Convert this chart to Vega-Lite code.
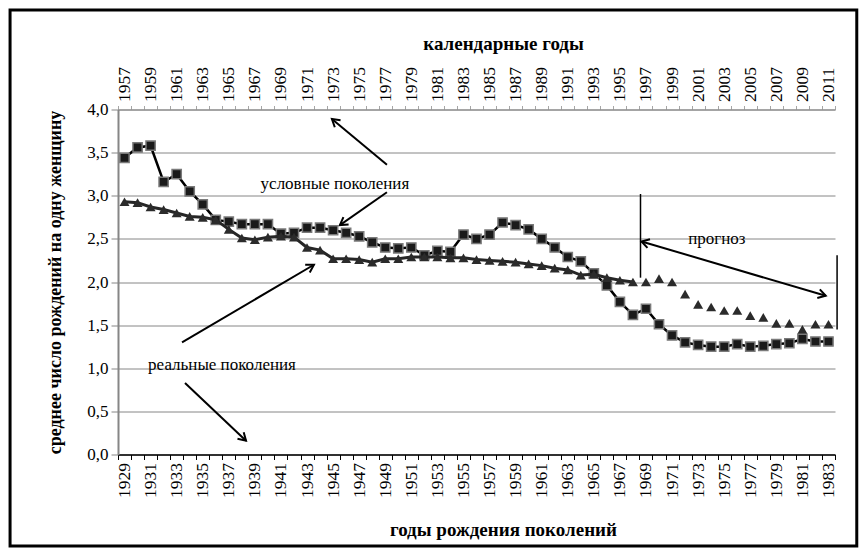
{
  "$schema": "https://vega.github.io/schema/vega-lite/v6.json",
  "width": 717,
  "height": 345,
  "autosize": {"type": "none"},
  "padding": {"left": 118, "top": 109.5, "right": 31, "bottom": 100.5},
  "background": "white",
  "config": {"view": {"stroke": null}, "font": "Liberation Serif", "text": {"font": "Liberation Serif"}},
  "datasets": {
    "fert": [
      {"year": 1929, "cond": 3.44, "real": 2.93}, {"year": 1930, "cond": 3.56, "real": 2.92},
      {"year": 1931, "cond": 3.58, "real": 2.87}, {"year": 1932, "cond": 3.16, "real": 2.84},
      {"year": 1933, "cond": 3.25, "real": 2.80}, {"year": 1934, "cond": 3.05, "real": 2.76},
      {"year": 1935, "cond": 2.90, "real": 2.75}, {"year": 1936, "cond": 2.72, "real": 2.72},
      {"year": 1937, "cond": 2.70, "real": 2.61}, {"year": 1938, "cond": 2.67, "real": 2.51},
      {"year": 1939, "cond": 2.67, "real": 2.49}, {"year": 1940, "cond": 2.67, "real": 2.52},
      {"year": 1941, "cond": 2.56, "real": 2.53}, {"year": 1942, "cond": 2.57, "real": 2.52},
      {"year": 1943, "cond": 2.63, "real": 2.40}, {"year": 1944, "cond": 2.63, "real": 2.37},
      {"year": 1945, "cond": 2.60, "real": 2.27}, {"year": 1946, "cond": 2.57, "real": 2.27},
      {"year": 1947, "cond": 2.53, "real": 2.26}, {"year": 1948, "cond": 2.46, "real": 2.23},
      {"year": 1949, "cond": 2.40, "real": 2.27}, {"year": 1950, "cond": 2.39, "real": 2.27},
      {"year": 1951, "cond": 2.40, "real": 2.29}, {"year": 1952, "cond": 2.31, "real": 2.29},
      {"year": 1953, "cond": 2.36, "real": 2.29}, {"year": 1954, "cond": 2.35, "real": 2.28},
      {"year": 1955, "cond": 2.55, "real": 2.28}, {"year": 1956, "cond": 2.50, "real": 2.26},
      {"year": 1957, "cond": 2.55, "real": 2.25}, {"year": 1958, "cond": 2.69, "real": 2.24},
      {"year": 1959, "cond": 2.66, "real": 2.23}, {"year": 1960, "cond": 2.61, "real": 2.21},
      {"year": 1961, "cond": 2.50, "real": 2.19}, {"year": 1962, "cond": 2.40, "real": 2.16},
      {"year": 1963, "cond": 2.29, "real": 2.14}, {"year": 1964, "cond": 2.24, "real": 2.08},
      {"year": 1965, "cond": 2.10, "real": 2.09}, {"year": 1966, "cond": 1.96, "real": 2.05},
      {"year": 1967, "cond": 1.77, "real": 2.02}, {"year": 1968, "cond": 1.62, "real": 2.00},
      {"year": 1969, "cond": 1.69, "real": 2.00}, {"year": 1970, "cond": 1.51, "real": 2.04},
      {"year": 1971, "cond": 1.38, "real": 2.00}, {"year": 1972, "cond": 1.30, "real": 1.86},
      {"year": 1973, "cond": 1.27, "real": 1.74}, {"year": 1974, "cond": 1.25, "real": 1.71},
      {"year": 1975, "cond": 1.25, "real": 1.67}, {"year": 1976, "cond": 1.28, "real": 1.67},
      {"year": 1977, "cond": 1.25, "real": 1.61}, {"year": 1978, "cond": 1.26, "real": 1.59},
      {"year": 1979, "cond": 1.28, "real": 1.52}, {"year": 1980, "cond": 1.29, "real": 1.52},
      {"year": 1981, "cond": 1.34, "real": 1.45}, {"year": 1982, "cond": 1.31, "real": 1.51},
      {"year": 1983, "cond": 1.31, "real": 1.51}
    ]
  },
  "data": {"name": "fert"},
  "resolve": {"axis": {"x": "independent"}},
  "layer": [
    {
      "mark": {"type": "line", "color": "black", "strokeWidth": 2.5},
      "encoding": {
        "x": {
          "field": "year", "type": "quantitative",
          "scale": {"domain": [1928.5, 1983.5], "nice": false, "zero": false},
          "axis": {
            "orient": "bottom",
            "values": [1928.5,1929.5,1930.5,1931.5,1932.5,1933.5,1934.5,1935.5,1936.5,1937.5,1938.5,1939.5,1940.5,1941.5,1942.5,1943.5,1944.5,1945.5,1946.5,1947.5,1948.5,1949.5,1950.5,1951.5,1952.5,1953.5,1954.5,1955.5,1956.5,1957.5,1958.5,1959.5,1960.5,1961.5,1962.5,1963.5,1964.5,1965.5,1966.5,1967.5,1968.5,1969.5,1970.5,1971.5,1972.5,1973.5,1974.5,1975.5,1976.5,1977.5,1978.5,1979.5,1980.5,1981.5,1982.5,1983.5],
            "labelExpr": "(datum.value + 0.5) % 2 == 1 && datum.value < 1983 ? format(datum.value + 0.5, 'd') : ''",
            "labelAngle": 270,
            "labelOffset": 6.52,
            "labelFontSize": 17.5,
            "labelFont": "Liberation Serif",
            "labelColor": "black",
            "labelPadding": 3,
            "labelOverlap": false,
            "labelBound": false,
            "labelFlush": false,
            "tickColor": "black",
            "tickSize": 5,
            "tickWidth": 1,
            "domainColor": "black",
            "domainWidth": 1.5,
            "grid": false,
            "title": "годы рождения  поколений",
            "titleFont": "Liberation Serif",
            "titleFontSize": 19,
            "titleFontWeight": "bold",
            "titleColor": "black",
            "titleX": 385,
            "titleY": 66
          }
        },
        "y": {
          "field": "cond", "type": "quantitative",
          "title": "среднее число рождений на одну женщину",
          "scale": {"domain": [0, 4], "nice": false, "zero": false},
          "axis": {
            "values": [0, 0.5, 1, 1.5, 2, 2.5, 3, 3.5, 4],
            "labelExpr": "replace(format(datum.value, '.1f'), '.', ',')",
            "grid": true,
            "gridColor": "#868686",
            "gridWidth": 1,
            "domainColor": "#868686",
            "domainWidth": 2,
            "tickColor": "#868686",
            "tickSize": 7,
            "labelFont": "Liberation Serif",
            "labelFontSize": 17,
            "labelColor": "black",
            "labelPadding": 3,
            "title": "среднее число рождений на одну женщину",
            "titleFont": "Liberation Serif",
            "titleFontSize": 18,
            "titleFontWeight": "bold",
            "titleColor": "black",
            "titlePadding": 22
          }
        }
      }
    },
    {
      "data": {"values": [{}]},
      "mark": {"type": "rect", "fill": null, "stroke": "black", "strokeWidth": 3},
      "encoding": {
        "x": {"datum": 1920.22, "type": "quantitative", "scale": {"domain": [1928.5, 1983.5], "nice": false, "zero": false}, "axis": null},
        "x2": {"datum": 1985.17},
        "y": {"datum": 5.154, "type": "quantitative", "title": "среднее число рождений на одну женщину", "scale": {"domain": [0, 4], "nice": false, "zero": false}},
        "y2": {"datum": -1.061}
      }
    },
    {
      "mark": {"type": "point", "shape": "square", "filled": true, "size": 85, "fill": "#1a1a1a", "stroke": "#7a7a7a", "strokeWidth": 1.5, "opacity": 1},
      "encoding": {
        "x": {"field": "year", "type": "quantitative", "scale": {"domain": [1928.5, 1983.5], "nice": false, "zero": false}, "axis": null},
        "y": {"field": "cond", "type": "quantitative", "title": "среднее число рождений на одну женщину", "scale": {"domain": [0, 4], "nice": false, "zero": false}}
      }
    },
    {
      "transform": [{"filter": "datum.year <= 1968"}],
      "mark": {"type": "line", "color": "#262626", "strokeWidth": 3},
      "encoding": {
        "x": {"field": "year", "type": "quantitative", "scale": {"domain": [1928.5, 1983.5], "nice": false, "zero": false}, "axis": null},
        "y": {"field": "real", "type": "quantitative", "title": "среднее число рождений на одну женщину", "scale": {"domain": [0, 4], "nice": false, "zero": false}}
      }
    },
    {
      "mark": {"type": "point", "shape": "triangle-up", "filled": true, "size": 100, "fill": "#2b2b2b", "opacity": 1},
      "encoding": {
        "x": {
          "field": "year", "type": "quantitative",
          "scale": {"domain": [1928.5, 1983.5], "nice": false, "zero": false},
          "axis": {
            "orient": "top",
            "values": [1928.5,1929.5,1930.5,1931.5,1932.5,1933.5,1934.5,1935.5,1936.5,1937.5,1938.5,1939.5,1940.5,1941.5,1942.5,1943.5,1944.5,1945.5,1946.5,1947.5,1948.5,1949.5,1950.5,1951.5,1952.5,1953.5,1954.5,1955.5,1956.5,1957.5,1958.5,1959.5,1960.5,1961.5,1962.5,1963.5,1964.5,1965.5,1966.5,1967.5,1968.5,1969.5,1970.5,1971.5,1972.5,1973.5,1974.5,1975.5,1976.5,1977.5,1978.5,1979.5,1980.5,1981.5,1982.5,1983.5],
            "labelExpr": "(datum.value + 0.5) % 2 == 1 && datum.value < 1983 ? format(datum.value + 28.5, 'd') : ''",
            "labelAngle": 270,
            "labelOffset": 6.52,
            "labelFontSize": 17.5,
            "labelFont": "Liberation Serif",
            "labelColor": "black",
            "labelPadding": 4,
            "labelOverlap": false,
            "labelBound": false,
            "labelFlush": false,
            "tickColor": "#a6a6a6",
            "tickSize": 4,
            "domainColor": "#868686",
            "domainWidth": 1,
            "grid": false,
            "title": "календарные годы",
            "titleFont": "Liberation Serif",
            "titleFontSize": 19,
            "titleFontWeight": "bold",
            "titleColor": "black",
            "titleX": 385,
            "titleY": -56
          }
        },
        "y": {"field": "real", "type": "quantitative", "title": "среднее число рождений на одну женщину", "scale": {"domain": [0, 4], "nice": false, "zero": false}}
      }
    },
    {
      "data": {"values": [{}]},
      "mark": {"type": "rule", "color": "black", "strokeWidth": 1.5},
      "encoding": {
        "x": {"datum": 1968.58, "type": "quantitative", "axis": null},
        "y": {"datum": 3.02, "type": "quantitative", "title": "среднее число рождений на одну женщину"},
        "y2": {"datum": 2.05}
      }
    },
    {
      "data": {"values": [{}]},
      "mark": {"type": "rule", "color": "black", "strokeWidth": 1.5},
      "encoding": {
        "x": {"datum": 1983.66, "type": "quantitative", "axis": null},
        "y": {"datum": 2.31, "type": "quantitative", "title": "среднее число рождений на одну женщину"},
        "y2": {"datum": 1.45}
      }
    },
    {
      "data": {"values": [{}]},
      "mark": {"type": "rule", "color": "black", "strokeWidth": 2},
      "encoding": {
        "x": {"datum": 1968.66, "type": "quantitative", "axis": null},
        "y": {"datum": 2.47, "type": "quantitative", "title": "среднее число рождений на одну женщину"},
        "x2": {"datum": 1982.79},
        "y2": {"datum": 1.84}
      }
    },
    {
      "data": {"values": [{}]},
      "mark": {"type": "rule", "color": "black", "strokeWidth": 2},
      "encoding": {
        "x": {"datum": 1949.13, "type": "quantitative", "axis": null},
        "y": {"datum": 3.36, "type": "quantitative", "title": "среднее число рождений на одну женщину"},
        "x2": {"datum": 1944.91},
        "y2": {"datum": 3.89}
      }
    },
    {
      "data": {"values": [{}]},
      "mark": {"type": "rule", "color": "black", "strokeWidth": 2},
      "encoding": {
        "x": {"datum": 1949.13, "type": "quantitative", "axis": null},
        "y": {"datum": 3.04, "type": "quantitative", "title": "среднее число рождений на одну женщину"},
        "x2": {"datum": 1945.52},
        "y2": {"datum": 2.66}
      }
    },
    {
      "data": {"values": [{}]},
      "mark": {"type": "rule", "color": "black", "strokeWidth": 2},
      "encoding": {
        "x": {"datum": 1933.41, "type": "quantitative", "axis": null},
        "y": {"datum": 1.30, "type": "quantitative", "title": "среднее число рождений на одну женщину"},
        "x2": {"datum": 1943.53},
        "y2": {"datum": 2.20}
      }
    },
    {
      "data": {"values": [{}]},
      "mark": {"type": "rule", "color": "black", "strokeWidth": 2},
      "encoding": {
        "x": {"datum": 1933.64, "type": "quantitative", "axis": null},
        "y": {"datum": 0.83, "type": "quantitative", "title": "среднее число рождений на одну женщину"},
        "x2": {"datum": 1938.32},
        "y2": {"datum": 0.16}
      }
    },
    {
      "data": {"values": [{}]},
      "mark": {"type": "point", "shape": "M -1 -0.6 L 0 0 L -1 0.6", "filled": false, "stroke": "black", "strokeWidth": 2, "size": 225, "opacity": 1, "angle": 219.9},
      "encoding": {"x": {"datum": 1944.91, "type": "quantitative", "axis": null}, "y": {"datum": 3.89, "type": "quantitative", "title": "среднее число рождений на одну женщину"}}
    },
    {
      "data": {"values": [{}]},
      "mark": {"type": "point", "shape": "M -1 -0.6 L 0 0 L -1 0.6", "filled": false, "stroke": "black", "strokeWidth": 2, "size": 225, "opacity": 1, "angle": 144.9},
      "encoding": {"x": {"datum": 1945.52, "type": "quantitative", "axis": null}, "y": {"datum": 2.66, "type": "quantitative", "title": "среднее число рождений на одну женщину"}}
    },
    {
      "data": {"values": [{}]},
      "mark": {"type": "point", "shape": "M -1 -0.6 L 0 0 L -1 0.6", "filled": false, "stroke": "black", "strokeWidth": 2, "size": 225, "opacity": 1, "angle": 329.7},
      "encoding": {"x": {"datum": 1943.53, "type": "quantitative", "axis": null}, "y": {"datum": 2.20, "type": "quantitative", "title": "среднее число рождений на одну женщину"}}
    },
    {
      "data": {"values": [{}]},
      "mark": {"type": "point", "shape": "M -1 -0.6 L 0 0 L -1 0.6", "filled": false, "stroke": "black", "strokeWidth": 2, "size": 225, "opacity": 1, "angle": 43.6},
      "encoding": {"x": {"datum": 1938.32, "type": "quantitative", "axis": null}, "y": {"datum": 0.16, "type": "quantitative", "title": "среднее число рождений на одну женщину"}}
    },
    {
      "data": {"values": [{}]},
      "mark": {"type": "point", "shape": "M -1 -0.6 L 0 0 L -1 0.6", "filled": false, "stroke": "black", "strokeWidth": 2, "size": 225, "opacity": 1, "angle": 196.4},
      "encoding": {"x": {"datum": 1968.66, "type": "quantitative", "axis": null}, "y": {"datum": 2.47, "type": "quantitative", "title": "среднее число рождений на одну женщину"}}
    },
    {
      "data": {"values": [{}]},
      "mark": {"type": "point", "shape": "M -1 -0.6 L 0 0 L -1 0.6", "filled": false, "stroke": "black", "strokeWidth": 2, "size": 225, "opacity": 1, "angle": 16.4},
      "encoding": {"x": {"datum": 1982.79, "type": "quantitative", "axis": null}, "y": {"datum": 1.84, "type": "quantitative", "title": "среднее число рождений на одну женщину"}}
    },
    {
      "data": {"values": [{}]},
      "mark": {"type": "text", "text": "условные поколения", "fontSize": 17, "font": "Liberation Serif", "color": "black", "align": "center", "baseline": "middle"},
      "encoding": {"x": {"datum": 1945.14, "type": "quantitative", "axis": null}, "y": {"datum": 3.14, "type": "quantitative", "title": "среднее число рождений на одну женщину"}}
    },
    {
      "data": {"values": [{}]},
      "mark": {"type": "text", "text": "реальные поколения", "fontSize": 17, "font": "Liberation Serif", "color": "black", "align": "center", "baseline": "middle"},
      "encoding": {"x": {"datum": 1936.48, "type": "quantitative", "axis": null}, "y": {"datum": 1.04, "type": "quantitative", "title": "среднее число рождений на одну женщину"}}
    },
    {
      "data": {"values": [{}]},
      "mark": {"type": "text", "text": "прогноз", "fontSize": 17, "font": "Liberation Serif", "color": "black", "align": "center", "baseline": "middle"},
      "encoding": {"x": {"datum": 1974.44, "type": "quantitative", "axis": null}, "y": {"datum": 2.50, "type": "quantitative", "title": "среднее число рождений на одну женщину"}}
    }
  ]
}
